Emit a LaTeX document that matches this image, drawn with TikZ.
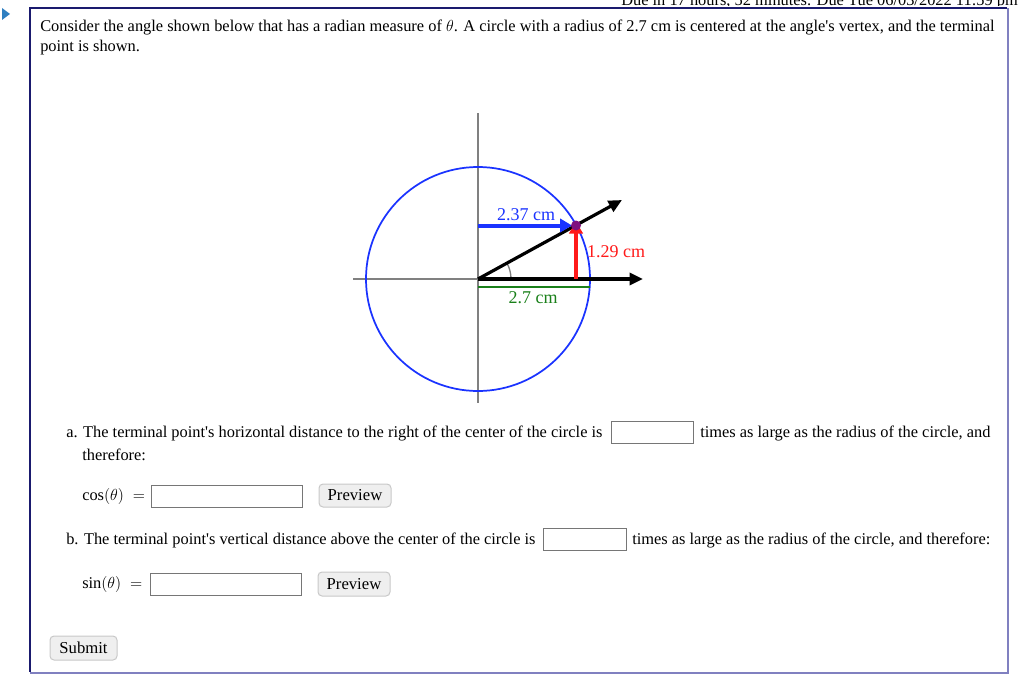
\documentclass[tikz,border=0pt]{standalone}
\usepackage{fontspec}
\setmainfont{Liberation Serif}[Ligatures=TeXOff]
\usepackage{amsmath}
\usetikzlibrary{arrows.meta}
\definecolor{navy}{HTML}{1A1A6E}
\definecolor{shadowc}{HTML}{8080C0}
\definecolor{playc}{HTML}{2F7FC1}
\definecolor{axisgray}{HTML}{808080}
\definecolor{cblue}{HTML}{1A33FF}
\definecolor{cred}{HTML}{FF1A1A}
\definecolor{cgreen}{HTML}{1A801A}
\definecolor{cpurple}{HTML}{7F0F7F}
\definecolor{btnfill}{HTML}{EFEFEF}
\definecolor{btndraw}{HTML}{C8C8C8}
\definecolor{boxdraw}{HTML}{767676}
\tikzset{
  txt/.style={anchor=base west,inner sep=0pt,font=\fontsize{12.3pt}{14pt}\selectfont},
  lbl/.style={inner sep=0pt,font=\fontsize{13.5pt}{15pt}\selectfont},
  btxt/.style={inner sep=0pt,font=\fontsize{12.5pt}{14pt}\selectfont},
  inbox/.style={draw=boxdraw,fill=white,line width=0.75pt},
  btn/.style={draw=btndraw,fill=btnfill,rounded corners=3pt,line width=0.75pt},
}
\begin{document}
\begin{tikzpicture}[x=0.75pt,y=-0.75pt]
\useasboundingbox (0,0) rectangle (1024,674);
% clipped header text
\begin{scope}
\clip (0,0) rectangle (1024,6);
\node[txt,anchor=base east] (due) at (1018,6) {Due in 17 hours, 52 minutes. Due Tue 06/03/2022 11:59 pm};
\end{scope}
% frame
\draw[navy,line width=0.8pt] (1007,8) -- (30,8) -- (30,672);
\draw[shadowc,line width=1.5pt] (1008,8) -- (1008,673) -- (30,673);
% play icon
\fill[playc] (2,8) -- (10,14) -- (2,20) -- cycle;
% header text
\node[txt] (t1) at (40,32) {Consider the angle shown below that has a radian measure of $\theta$. A circle with a radius of 2.7 cm is centered at the angle's vertex, and the terminal};
\node[txt] (t2) at (40,52) {point is shown.};
% diagram
\coordinate (O) at (478,279);
\coordinate (P) at (576,225.5);
\coordinate (Py) at (478,225.5);
\coordinate (Px) at (576,279);
\coordinate (xend) at (643,279);
\coordinate (rend) at (622,200);
\coordinate (xl) at (353,279);
\coordinate (yt) at (478,113);
\coordinate (yb) at (478,403);
\coordinate (g1) at (478,287);
\coordinate (g2) at (590,287);
\draw[axisgray,line width=1.3pt] (xl) -- (O);
\draw[axisgray,line width=1.3pt] (yt) -- (yb);
\draw[cblue,line width=1.3pt] (O) circle[radius=112];
\draw[axisgray,line width=1pt] ([shift={(0:33)}]O) arc[start angle=0,end angle=-29,radius=33];
\draw[line width=2.4pt,-{Triangle[length=10pt,width=9pt]}] (O) -- (xend);
\draw[line width=2.4pt,-{Triangle[length=10pt,width=9pt]}] (O) -- (rend);
\draw[cgreen,line width=2pt] (g1) -- (g2);
\draw[cblue,line width=3pt,-{Triangle[length=9pt,width=10pt]}] (Py) -- ([xshift=-3]P);
\draw[cred,line width=3pt,-{Triangle[length=9pt,width=10pt]}] (Px) -- ([yshift=3]P);
\fill[cpurple] (P) circle[radius=5];
\node[lbl,text=cblue] (l1) at (526,215) {2.37 cm};
\node[lbl,text=cred] (l2) at (616,252) {1.29 cm};
\node[lbl,text=cgreen] (l3) at (533,298) {2.7 cm};
% part a
\node[txt] (a1) at (66,437) {a. The terminal point's horizontal distance to the right of the center of the circle is};
\draw[inbox] (611,421) rectangle (693,443);
\node[txt] (a2) at (700,437) {times as large as the radius of the circle, and};
\node[txt] (a3) at (82,460) {therefore:};
\node[txt] (cos) at (82,500) {$\cos(\theta)\;=$};
\draw[inbox] (151,485) rectangle (302,507);
\draw[btn] (319,484) rectangle (391,507);
\node[btxt] (pv1) at (355,495.5) {Preview};
% part b
\node[txt] (b1) at (66,544) {b. The terminal point's vertical distance above the center of the circle is};
\draw[inbox] (543,528) rectangle (626,550);
\node[txt] (b2) at (632,544) {times as large as the radius of the circle, and therefore:};
\node[txt] (sin) at (82,588) {$\sin(\theta)\;=$};
\draw[inbox] (150,573) rectangle (301,595);
\draw[btn] (318,572) rectangle (390,596);
\node[btxt] (pv2) at (354,584) {Preview};
\draw[btn] (50,636) rectangle (117,660);
\node[btxt] (sub) at (83.5,648) {Submit};
\end{tikzpicture}
\end{document}
